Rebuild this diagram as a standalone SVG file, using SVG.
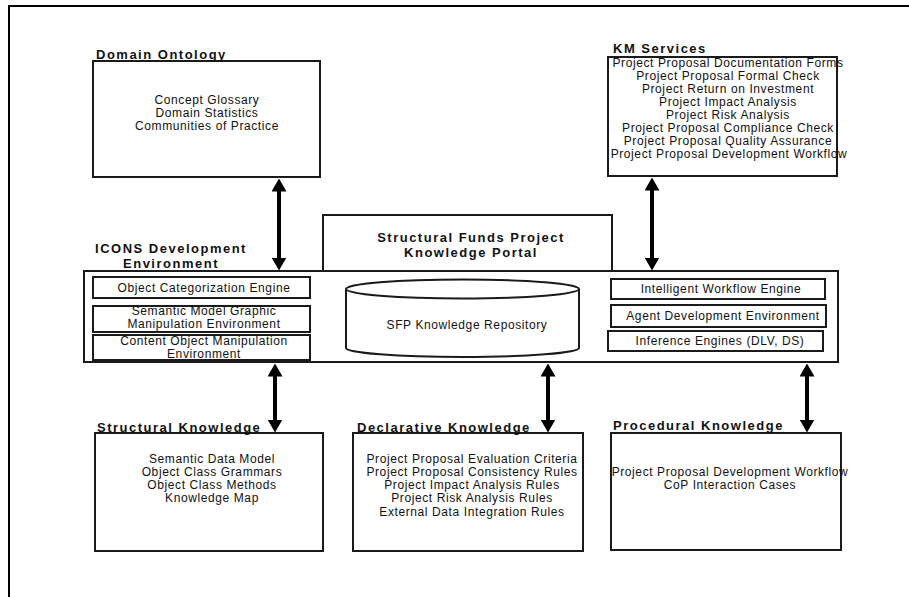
<svg xmlns="http://www.w3.org/2000/svg" width="909" height="597" viewBox="0 0 909 597">
<style>
.box{fill:#fff;stroke:#1a1a1a;stroke-width:2}
.t{font-family:"Liberation Sans",Arial,sans-serif;font-size:12px;letter-spacing:0.6px;fill:#111;text-anchor:middle}
.h{font-family:"Liberation Sans",Arial,sans-serif;font-size:13px;font-weight:bold;letter-spacing:1.5px;fill:#111}
.hc{text-anchor:middle}
.arr{stroke:#000;stroke-width:4;fill:none;marker-start:url(#ah);marker-end:url(#ah)}
.frame{stroke:#000;stroke-width:2;fill:none}
</style>
<defs>
<marker id="ah" markerUnits="userSpaceOnUse" viewBox="0 0 13 15" refX="0.5" refY="7.5" markerWidth="13" markerHeight="15" orient="auto-start-reverse">
<path d="M0,0 L13,7.5 L0,15 Z" fill="#000"/>
</marker>
</defs>
<path class="frame" d="M9,597 L9,6 L909,6"/>

<g id="domain-ontology">
<rect class="box" x="93" y="61" width="227" height="116"/>
<text class="h" x="96" y="59">Domain Ontology</text>
<text class="t" x="207" y="104">Concept Glossary</text>
<text class="t" x="207" y="117">Domain Statistics</text>
<text class="t" x="207" y="130">Communities of Practice</text>
</g>

<g id="km-services">
<rect class="box" x="608" y="57" width="229" height="119"/>
<text class="h" x="613" y="53">KM Services</text>
<text class="t" x="728" y="67">Project Proposal Documentation Forms</text>
<text class="t" x="728" y="80">Project Proposal Formal Check</text>
<text class="t" x="728" y="93">Project Return on Investment</text>
<text class="t" x="728" y="106">Project Impact Analysis</text>
<text class="t" x="728" y="119">Project Risk Analysis</text>
<text class="t" x="728" y="132">Project Proposal Compliance Check</text>
<text class="t" x="728" y="145">Project Proposal Quality Assurance</text>
<text class="t" x="729" y="158">Project Proposal Development Workflow</text>
</g>

<g id="knowledge-portal">
<rect class="box" x="323" y="215" width="289" height="56"/>
<text class="h hc" x="471" y="242">Structural Funds Project</text>
<text class="h hc" x="471" y="257">Knowledge Portal</text>
</g>

<g id="icons-environment">
<rect class="box" x="84" y="271" width="754" height="91"/>
<text class="h hc" x="171" y="253">ICONS Development</text>
<text class="h hc" x="171" y="268">Environment</text>
</g>

<g id="object-categorization">
<rect class="box" x="93" y="277" width="217" height="21"/>
<text class="t" x="204" y="292">Object Categorization Engine</text>
</g>
<g id="semantic-model">
<rect class="box" x="93" y="306" width="217" height="26"/>
<text class="t" x="204" y="315">Semantic Model Graphic</text>
<text class="t" x="204" y="328">Manipulation Environment</text>
</g>
<g id="content-object">
<rect class="box" x="93" y="335" width="217" height="25"/>
<text class="t" x="204" y="345">Content Object Manipulation</text>
<text class="t" x="204" y="358">Environment</text>
</g>

<g id="sfp-repository">
<path class="box" d="M346,289 L346,348 A116.5,9 0 0,0 579,348 L579,289"/>
<ellipse class="box" cx="462.5" cy="289" rx="116.5" ry="9.5"/>
<text class="t" x="467" y="329">SFP Knowledge Repository</text>
</g>

<g id="workflow-engine">
<rect class="box" x="611" y="279" width="214" height="20"/>
<text class="t" x="721" y="293">Intelligent Workflow Engine</text>
</g>
<g id="agent-dev">
<rect class="box" x="611" y="305" width="215" height="22"/>
<text class="t" x="723" y="320">Agent Development Environment</text>
</g>
<g id="inference-engines">
<rect class="box" x="608" y="331" width="215" height="20"/>
<text class="t" x="720" y="345">Inference Engines (DLV, DS)</text>
</g>

<g id="structural-knowledge">
<rect class="box" x="95" y="433" width="228" height="118"/>
<text class="h" x="97" y="432">Structural Knowledge</text>
<text class="t" x="212" y="463">Semantic Data Model</text>
<text class="t" x="212" y="476">Object Class Grammars</text>
<text class="t" x="212" y="489">Object Class Methods</text>
<text class="t" x="212" y="502">Knowledge Map</text>
</g>

<g id="declarative-knowledge">
<rect class="box" x="353" y="433" width="230" height="118"/>
<text class="h" x="357" y="432">Declarative Knowledge</text>
<text class="t" x="472" y="463">Project Proposal Evaluation Criteria</text>
<text class="t" x="472" y="476">Project Proposal Consistency Rules</text>
<text class="t" x="472" y="489">Project Impact Analysis Rules</text>
<text class="t" x="472" y="502">Project Risk Analysis Rules</text>
<text class="t" x="472" y="516">External Data Integration Rules</text>
</g>

<g id="procedural-knowledge">
<rect class="box" x="611" y="433" width="230" height="117"/>
<text class="h" x="613" y="430">Procedural Knowledge</text>
<text class="t" x="730" y="476">Project Proposal Development Workflow</text>
<text class="t" x="730" y="489">CoP Interaction Cases</text>
</g>

<g id="connectors">
<line class="arr" x1="279" y1="191" x2="279" y2="258"/>
<line class="arr" x1="652" y1="190" x2="652" y2="258"/>
<line class="arr" x1="275" y1="376" x2="275" y2="420"/>
<line class="arr" x1="548" y1="376" x2="548" y2="420"/>
<line class="arr" x1="807" y1="376" x2="807" y2="420"/>
</g>
</svg>
